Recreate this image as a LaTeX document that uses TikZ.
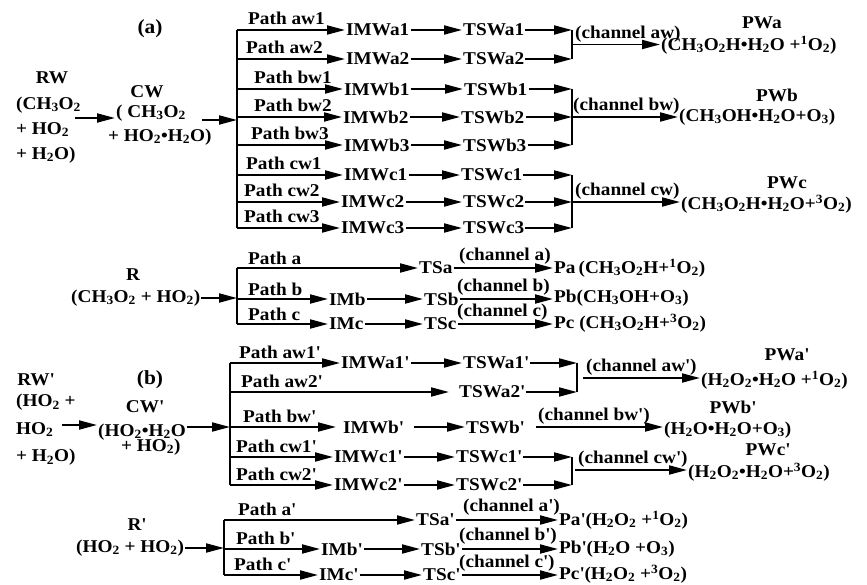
\documentclass[tikz,border=0pt]{standalone}
\usepackage{fontspec}
\setmainfont{Liberation Serif}[FakeStretch=1.07]
\usetikzlibrary{arrows.meta}
\newcommand{\dn}[1]{\textsubscript{#1}}
\newcommand{\supr}[1]{\textsuperscript{#1}}
\newcommand{\pr}{\textquotesingle}
\newcommand{\bul}{\textbullet}
\tikzset{
  txt/.style={font=\fontsize{18}{20}\selectfont\bfseries, inner sep=1pt},
  lab/.style={txt, anchor=south west},
  item/.style={txt, anchor=west},
  ttl/.style={txt},
  part/.style={font=\fontsize{20}{22}\selectfont\bfseries, inner sep=1pt},
  arr/.style={line width=1.9pt, -{Triangle[length=18pt,width=9pt]}},
  ln/.style={line width=1.9pt},
}
\begin{document}
\begin{tikzpicture}[x=1pt,y=-1pt]
\useasboundingbox (0,0) rectangle (867,585);

% ---------------- (a) hydrated CH3O2 + HO2 ----------------
\node[part] (labA) at (150,29) {(a)};
\node[ttl] (RWt) at (52,78) {RW};
\node[item, align=left, font=\fontsize{18}{25}\selectfont\bfseries] (RWb) at (15,130)
  {(CH\dn3O\dn2\\+ HO\dn2\\+ H\dn2O)};
\node[ttl] (CWt) at (147,92) {CW};
\node[item] (CW1) at (115,113) {( CH\dn3O\dn2};
\node[item] (CW2) at (107,137) {+ HO\dn2\bul H\dn2O)};
\coordinate (rwo) at (75,118);
\draw[arr] (rwo) -- (rwo -| CW1.west);
\coordinate (Ta) at (237,30);
\coordinate (Tz) at (237,228);
\draw[ln] (Ta) -- (Tz);
\coordinate (cwo) at (202,120);
\draw[arr] (cwo) -- (cwo -| Ta);

\foreach \k/\p/\y/\lx/\ix/\tx in {a1/aw1/30/247/345/462, a2/aw2/59/245/345/462,
    b1/bw1/89/253/343/463, b2/bw2/117/253/342/460, b3/bw3/145/250/343/462,
    c1/cw1/175/245/343/460, c2/cw2/202/243/340/462, c3/cw3/228/243/340/462} {
  \coordinate (br\k) at (237,\y);
  \coordinate (J\k) at (572,\y);
  \node[lab] (P\k) at (\lx,\y-4) {Path \p};
  \node[item] (IM\k) at (\ix,\y) {IMW\k};
  \node[item] (TS\k) at (\tx,\y) {TSW\k};
  \draw[arr] (br\k) -- (IM\k.west |- br\k);
  \draw[arr] (IM\k) -- (TS\k);
  \draw[arr] (TS\k) -- (J\k);
}
% channel aw
\draw[ln] (Ja1) -- (Ja2);
\coordinate (Ma) at (572,44.5);
\node[item] (PWap) at (660,45) {(CH\dn3O\dn2H\bul H\dn2O +\supr1O\dn2)};
\node[ttl] (PWa) at (762,23) {PWa};
\draw[arr] (Ma) -- (Ma -| PWap.west);
\node[lab] (chaw) at (574,43.5) {(channel aw)};
% channel bw
\draw[ln] (Jb1) -- (Jb3);
\node[item] (PWbp) at (678,117) {(CH\dn3OH\bul H\dn2O+O\dn3)};
\node[ttl] (PWb) at (777,95) {PWb};
\draw[arr] (Jb2) -- (Jb2 -| PWbp.west);
\node[lab] (chbw) at (572,116) {(channel bw)};
% channel cw
\draw[ln] (Jc1) -- (Jc3);
\node[item] (PWcp) at (680,204) {(CH\dn3O\dn2H\bul H\dn2O+\supr3O\dn2)};
\node[ttl] (PWc) at (787,183) {PWc};
\draw[arr] (Jc2) -- (Jc2 -| PWcp.west);
\node[lab] (chcw) at (574,201) {(channel cw)};

% ---------------- bare CH3O2 + HO2 ----------------
\node[ttl] (Rt) at (133,275) {R};
\node[item] (Rb) at (70,298) {(CH\dn3O\dn2 + HO\dn2)};
\coordinate (RTa) at (237,268);
\coordinate (RTc) at (237,324);
\draw[ln] (RTa) -- (RTc);
\draw[arr] (Rb) -- (Rb -| RTa);
\coordinate (rbb) at (237,299);
\node[lab] (Pa) at (247,266) {Path a};
\node[lab] (Pb) at (247,297) {Path b};
\node[lab] (Pc) at (247,322) {Path c};
\node[item] (TSa) at (418,268) {TSa};
\node[item] (IMb) at (328,299) {IMb};
\node[item] (TSb) at (423,299) {TSb};
\node[item] (IMc) at (328,324) {IMc};
\node[item] (TSc) at (423,324) {TSc};
\draw[arr] (RTa) -- (RTa -| TSa.west);
\draw[arr] (rbb) -- (rbb -| IMb.west);
\draw[arr] (RTc) -- (RTc -| IMc.west);
\draw[arr] (IMb) -- (TSb);
\draw[arr] (IMc) -- (TSc);
\node[item] (PRa) at (553,268) {Pa\,(CH\dn3O\dn2H+\supr1O\dn2)};
\node[item] (PRb) at (553,298) {Pb(CH\dn3OH+O\dn3)};
\node[item] (PRc) at (553,323) {Pc (CH\dn3O\dn2H+\supr3O\dn2)};
\draw[arr] (TSa) -- (TSa -| PRa.west);
\draw[arr] (TSb) -- (TSb -| PRb.west);
\draw[arr] (TSc) -- (TSc -| PRc.west);
\node[lab] (cha) at (458,266) {(channel a)};
\node[lab] (chb) at (456,297) {(channel b)};
\node[lab] (chc) at (456,322) {(channel c)};

% ---------------- (b) hydrated HO2 + HO2 ----------------
\node[part] (labB) at (150,380) {(b)};
\node[ttl] (RWpt) at (36,380) {RW\pr};
\node[item, align=left, font=\fontsize{18}{27.5}\selectfont\bfseries] (RWpb) at (15,430)
  {(HO\dn2 +\\HO\dn2\\+ H\dn2O)};
\node[ttl] (CWpt) at (145,407) {CW\pr};
\node[item] (CWp1) at (97,432) {(HO\dn2\bul H\dn2O};
\node[item] (CWp2) at (120,447) {+ HO\dn2)};
\coordinate (rwpo) at (62,425);
\draw[arr] (rwpo) -- (rwpo -| CWp1.west);
\coordinate (TPa) at (230,363);
\coordinate (TPz) at (230,485);
\draw[ln] (TPa) -- (TPz);
\coordinate (cwpo) at (187,427);
\draw[arr] (cwpo) -- (cwpo -| TPa);

\coordinate (bpa2) at (230,392);
\coordinate (bpb) at (230,427);
\coordinate (bpc1) at (230,457);
\coordinate (bpc2) at (230,485);
\node[lab] (Ppa1) at (238,360) {Path aw1\pr};
\node[lab] (Ppa2) at (240,389) {Path aw2\pr};
\node[lab] (Ppb) at (242,424) {Path bw\pr};
\node[lab] (Ppc1) at (235,454) {Path cw1\pr};
\node[lab] (Ppc2) at (235,482) {Path cw2\pr};

\node[item] (IMpa1) at (340,363) {IMWa1\pr};
\node[item] (TSpa1) at (462,363) {TSWa1\pr};
\node[item] (TSpa2) at (458,392) {TSWa2\pr};
\node[item] (IMpb) at (342,427) {IMWb\pr};
\node[item] (TSpb) at (465,427) {TSWb\pr};
\node[item] (IMpc1) at (333,457) {IMWc1\pr};
\node[item] (TSpc1) at (455,457) {TSWc1\pr};
\node[item] (IMpc2) at (333,485) {IMWc2\pr};
\node[item] (TSpc2) at (455,485) {TSWc2\pr};
\draw[arr] (TPa) -- (TPa -| IMpa1.west);
\draw[arr, shorten >=9pt] (bpa2) -- (bpa2 -| TSpa2.west);
\draw[arr, shorten >=6pt] (bpb) -- (bpb -| IMpb.west);
\draw[arr] (bpc1) -- (bpc1 -| IMpc1.west);
\draw[arr] (bpc2) -- (bpc2 -| IMpc2.west);
\draw[arr] (IMpa1) -- (TSpa1);
\draw[arr, shorten <=9pt] (IMpb) -- (TSpb);
\draw[arr] (IMpc1) -- (TSpc1);
\draw[arr] (IMpc2) -- (TSpc2);

% channel aw'
\coordinate (Jpa1) at (577,363);
\coordinate (Jpa2) at (577,392);
\draw[arr] (TSpa1) -- (Jpa1);
\draw[arr] (TSpa2) -- (Jpa2);
\draw[ln] (Jpa1) -- (Jpa2);
\coordinate (Mpa) at (583,378);
\node[item] (PWpap) at (700,380) {(H\dn2O\dn2\bul H\dn2O +\supr1O\dn2)};
\node[ttl] (PWpa) at (787,355) {PWa\pr};
\draw[arr] (Mpa) -- (Mpa -| PWpap.west);
\node[lab] (chpaw) at (585,376.5) {(channel aw\pr)};
% channel bw'
\node[item] (PWpbp) at (663,430) {(H\dn2O\bul H\dn2O+O\dn3)};
\node[ttl] (PWpb) at (733,407) {PWb\pr};
\draw[arr, shorten <=10pt] (TSpb) -- (TSpb -| PWpbp.west);
\node[lab] (chpbw) at (537,425.5) {(channel bw\pr)};
% channel cw'
\coordinate (Jpc1) at (572,457);
\coordinate (Jpc2) at (572,485);
\draw[arr] (TSpc1) -- (Jpc1);
\draw[arr] (TSpc2) -- (Jpc2);
\draw[ln] (Jpc1) -- (Jpc2);
\coordinate (Mpc) at (575,470);
\node[item] (PWpcp) at (687,472) {(H\dn2O\dn2\bul H\dn2O+\supr3O\dn2)};
\node[ttl] (PWpc) at (768,450) {PWc\pr};
\draw[arr] (Mpc) -- (Mpc -| PWpcp.west);
\node[lab] (chpcw) at (577,468.5) {(channel cw\pr)};

% ---------------- bare HO2 + HO2 ----------------
\node[ttl] (Rpt) at (137,525) {R\pr};
\node[item] (Rpb) at (75,548) {(HO\dn2 + HO\dn2)};
\coordinate (RPa) at (224,520);
\coordinate (RPc) at (224,575);
\draw[ln] (RPa) -- (RPc);
\draw[arr] (Rpb) -- (Rpb -| RPa);
\coordinate (rpbb) at (224,549);
\node[lab] (Ppa) at (237,517) {Path a\pr};
\node[lab] (Pbpp) at (235,546) {Path b\pr};
\node[lab] (Pcpp) at (233,572) {Path c\pr};
\node[item] (TSap) at (415,520) {TSa\pr};
\node[item] (IMbp) at (320,549) {IMb\pr};
\node[item] (TSbp) at (420,549) {TSb\pr};
\node[item] (IMcp) at (318,575) {IMc\pr};
\node[item] (TScp) at (422,575) {TSc\pr};
\draw[arr] (RPa) -- (RPa -| TSap.west);
\draw[arr] (rpbb) -- (rpbb -| IMbp.west);
\draw[arr] (RPc) -- (RPc -| IMcp.west);
\draw[arr] (IMbp) -- (TSbp);
\draw[arr] (IMcp) -- (TScp);
\node[item] (PRpa) at (558,520) {Pa\pr(H\dn2O\dn2 +\supr1O\dn2)};
\node[item] (PRpb) at (558,549) {Pb\pr(H\dn2O +O\dn3)};
\node[item] (PRpc) at (558,574) {Pc\pr(H\dn2O\dn2 +\supr3O\dn2)};
\draw[arr] (TSap) -- (TSap -| PRpa.west);
\draw[arr] (TSbp) -- (TSbp -| PRpb.west);
\draw[arr] (TScp) -- (TScp -| PRpc.west);
\node[lab] (chpa) at (462,516.5) {(channel a\pr)};
\node[lab] (chpb) at (458,545.5) {(channel b\pr)};
\node[lab] (chpc) at (458,572.5) {(channel c\pr)};
\end{tikzpicture}
\end{document}
